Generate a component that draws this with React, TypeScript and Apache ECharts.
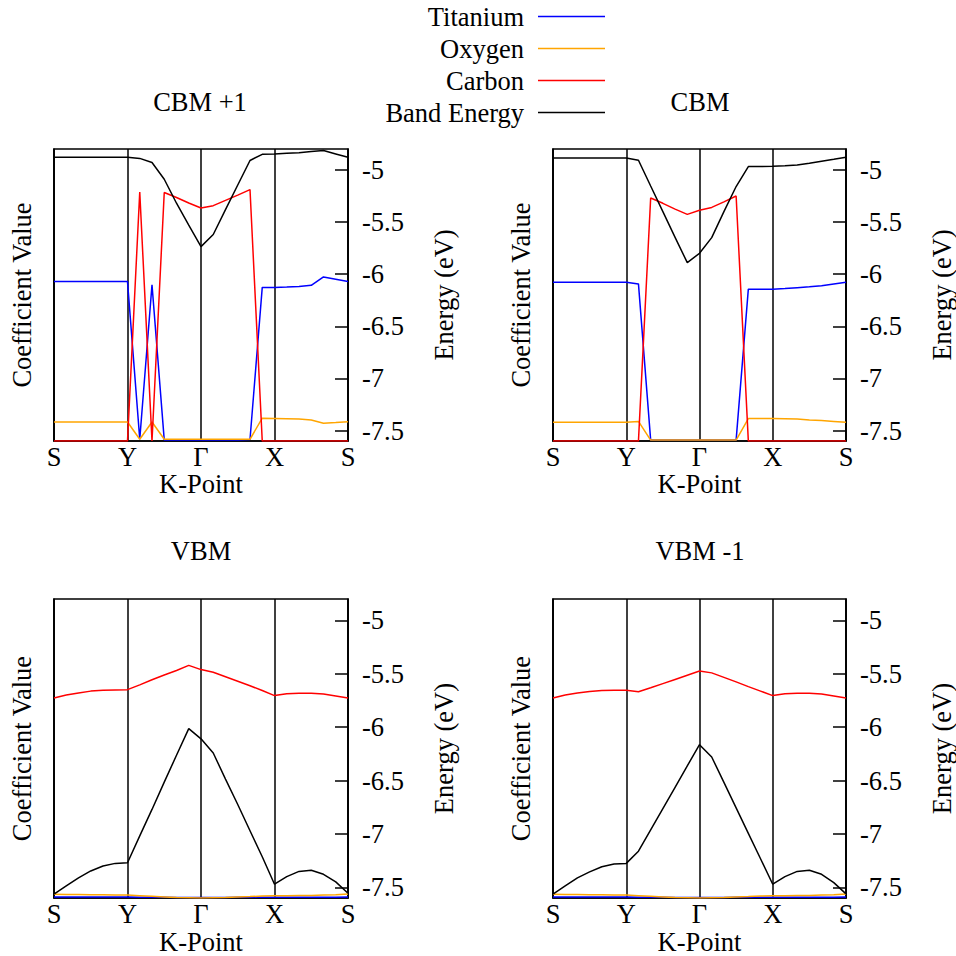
import React, { useEffect, useRef } from "react";
import * as echarts from "echarts";

// K-path tick labels (25 sampled k-points, high-symmetry points every 6)
const kLabels = ["S", "Y", "Γ", "X", "S"];
const kIndex = Array.from({ length: 25 }, (_, i) => i);

const legendNames = ["Titanium", "Oxygen", "Carbon", "Band Energy"];
const panelTitles = ["CBM +1", "CBM", "VBM", "VBM -1"];

// CBM +1
const band1 = [-4.879, -4.879, -4.879, -4.879, -4.879, -4.879, -4.879, -4.89, -4.93, -5.09, -5.32, -5.53, -5.736, -5.62, -5.381, -5.145, -4.91, -4.851, -4.847, -4.841, -4.835, -4.825, -4.815, -4.847, -4.879];
const ti1 = [0.546, 0.546, 0.546, 0.546, 0.546, 0.546, 0.546, 0.006, 0.535, 0.003, 0.003, 0.003, 0.003, 0.003, 0.003, 0.003, 0.005, 0.526, 0.526, 0.527, 0.529, 0.533, 0.562, 0.554, 0.546];
const ox1 = [0.065, 0.065, 0.065, 0.065, 0.065, 0.065, 0.065, 0.006, 0.065, 0.006, 0.006, 0.006, 0.006, 0.006, 0.006, 0.006, 0.006, 0.078, 0.077, 0.076, 0.075, 0.072, 0.061, 0.063, 0.066];
const ca1 = [0, 0, 0, 0, 0, 0, 0, 0.853, 0, 0.851, 0.834, 0.815, 0.798, 0.806, 0.824, 0.842, 0.861, 0, 0, 0, 0, 0, 0, 0, 0];

// CBM
const band2 = [-4.886, -4.886, -4.886, -4.886, -4.886, -4.886, -4.886, -4.908, -5.155, -5.4, -5.647, -5.89, -5.8, -5.65, -5.4, -5.16, -4.969, -4.969, -4.966, -4.96, -4.953, -4.937, -4.918, -4.899, -4.879];
const ti2 = [0.544, 0.544, 0.544, 0.544, 0.544, 0.544, 0.544, 0.538, 0.003, 0.003, 0.003, 0.003, 0.003, 0.003, 0.003, 0.003, 0.52, 0.52, 0.52, 0.522, 0.525, 0.528, 0.532, 0.538, 0.544];
const ox2 = [0.064, 0.064, 0.064, 0.064, 0.064, 0.064, 0.064, 0.067, 0.003, 0.003, 0.003, 0.003, 0.003, 0.003, 0.003, 0.003, 0.077, 0.077, 0.077, 0.076, 0.075, 0.072, 0.07, 0.067, 0.064];
const ca2 = [0, 0, 0, 0, 0, 0, 0, 0, 0.832, 0.814, 0.794, 0.776, 0.79, 0.8, 0.819, 0.839, 0, 0, 0, 0, 0, 0, 0, 0, 0];

// VBM
const band3 = [-7.563, -7.486, -7.41, -7.346, -7.3, -7.275, -7.269, -7.018, -6.77, -6.514, -6.263, -6.013, -6.109, -6.242, -6.486, -6.724, -6.969, -7.213, -7.47, -7.399, -7.35, -7.34, -7.377, -7.448, -7.554];
const ti3 = [0.004, 0.004, 0.004, 0.004, 0.004, 0.004, 0.004, 0.003, 0.003, 0.003, 0.002, 0.002, 0.002, 0.002, 0.002, 0.003, 0.003, 0.003, 0.003, 0.003, 0.003, 0.003, 0.003, 0.003, 0.004];
const ox3 = [0.013, 0.012, 0.012, 0.011, 0.011, 0.01, 0.01, 0.008, 0.006, 0.004, 0.002, 0.001, 0.0, 0.001, 0.002, 0.004, 0.005, 0.007, 0.008, 0.008, 0.009, 0.009, 0.01, 0.011, 0.014];
const ca3 = [0.669, 0.679, 0.686, 0.692, 0.695, 0.696, 0.697, 0.713, 0.73, 0.746, 0.761, 0.778, 0.764, 0.755, 0.74, 0.725, 0.71, 0.694, 0.677, 0.683, 0.685, 0.685, 0.682, 0.676, 0.669];

// VBM -1
const band4 = [-7.563, -7.486, -7.41, -7.355, -7.306, -7.281, -7.275, -7.161, -6.961, -6.762, -6.563, -6.362, -6.164, -6.279, -6.517, -6.755, -6.994, -7.232, -7.47, -7.399, -7.35, -7.34, -7.377, -7.455, -7.56];
const ti4 = [0.004, 0.004, 0.004, 0.004, 0.004, 0.004, 0.004, 0.003, 0.003, 0.003, 0.002, 0.002, 0.002, 0.002, 0.002, 0.003, 0.003, 0.003, 0.003, 0.003, 0.003, 0.003, 0.003, 0.003, 0.004];
const ox4 = [0.013, 0.012, 0.012, 0.011, 0.011, 0.01, 0.01, 0.008, 0.006, 0.004, 0.002, 0.001, 0.0, 0.001, 0.002, 0.004, 0.005, 0.007, 0.008, 0.008, 0.009, 0.009, 0.01, 0.011, 0.014];
const ca4 = [0.669, 0.679, 0.686, 0.691, 0.694, 0.695, 0.695, 0.69, 0.703, 0.717, 0.731, 0.745, 0.759, 0.753, 0.738, 0.723, 0.707, 0.692, 0.677, 0.683, 0.685, 0.685, 0.682, 0.676, 0.669];

const panels = [
  { ti: ti1, ox: ox1, ca: ca1, band: band1 },
  { ti: ti2, ox: ox2, ca: ca2, band: band2 },
  { ti: ti3, ox: ox3, ca: ca3, band: band3 },
  { ti: ti4, ox: ox4, ca: ca4, band: band4 },
];

const colors = { ti: "#0000ff", ox: "#ffa500", ca: "#ff0000", band: "#000000" };
const FONT = "Liberation Serif";

export default function App() {
  const ref = useRef<HTMLDivElement>(null);
  useEffect(() => {
    if (!ref.current) return;
    const chart = echarts.init(ref.current, undefined, { renderer: "svg" });

    const grids = [
      { left: 54, top: 149, width: 294, height: 292 },
      { left: 553, top: 149, width: 294, height: 292 },
      { left: 54, top: 599, width: 294, height: 300 },
      { left: 553, top: 599, width: 294, height: 300 },
    ].map((g) => ({ ...g, show: true, borderColor: "#000", borderWidth: 1.5, backgroundColor: "transparent" }));

    const textBase = { fontFamily: FONT, fontSize: 26.5, color: "#000" };

    const xAxis = grids.map((_, i) => ({
      type: "value",
      gridIndex: i,
      min: 0,
      max: 24,
      interval: 6,
      name: "K-Point",
      nameLocation: "middle",
      nameGap: 23,
      nameTextStyle: textBase,
      axisLine: { show: true, lineStyle: { color: "#000", width: 1.5 } },
      axisTick: { show: false },
      axisLabel: { ...textBase, margin: 2, formatter: (v: number) => kLabels[Math.round(v / 6)] ?? "" },
      splitLine: { show: true, lineStyle: { color: "#000", width: 1.5 } },
    }));

    const yAxis: any[] = [];
    grids.forEach((_, i) => {
      yAxis.push({
        type: "value",
        gridIndex: i,
        position: "left",
        min: 0,
        max: 1,
        name: "Coefficient Value",
        nameLocation: "middle",
        nameRotate: 90,
        nameGap: 19,
        nameTextStyle: textBase,
        axisLine: { show: true, lineStyle: { color: "#000", width: 1.5 } },
        axisTick: { show: false },
        axisLabel: { show: false },
        splitLine: { show: false },
      });
      yAxis.push({
        type: "value",
        gridIndex: i,
        position: "right",
        min: -7.6,
        max: -4.8,
        name: "Energy (eV)",
        nameLocation: "middle",
        nameRotate: 90,
        nameGap: 82,
        nameTextStyle: textBase,
        axisLine: { show: true, lineStyle: { color: "#000", width: 1.5 } },
        axisTick: { show: true, inside: true, length: 13, lineStyle: { color: "#000", width: 1.5 } },
        axisLabel: {
          ...textBase,
          margin: 14,
          showMinLabel: false,
          showMaxLabel: false,
          formatter: (v: number) => (Math.abs(v * 2 - Math.round(v * 2)) < 1e-6 ? String(v) : ""),
        },
        splitLine: { show: false },
      });
    });

    const series: any[] = [];
    panels.forEach((p, i) => {
      const mk = (name: string, vals: number[], color: string, yIdx: number) => ({
        type: "line",
        name,
        xAxisIndex: i,
        yAxisIndex: yIdx,
        data: kIndex.map((k) => [k, vals[k]]),
        showSymbol: false,
        symbol: "none",
        lineStyle: { color, width: 1.5 },
        itemStyle: { color },
        silent: true,
      });
      series.push(mk("Titanium", p.ti, colors.ti, i * 2));
      series.push(mk("Oxygen", p.ox, colors.ox, i * 2));
      series.push(mk("Carbon", p.ca, colors.ca, i * 2));
      series.push(mk("Band Energy", p.band, colors.band, i * 2 + 1));
    });

    const legendCenters = [17, 49, 81, 113];
    const legend = legendNames.map((n, i) => ({
      data: [n],
      right: 351,
      top: legendCenters[i] - 14,
      orient: "horizontal",
      align: "right",
      icon: "rect",
      itemWidth: 67,
      itemHeight: 1.5,
      padding: 0,
      selectedMode: false,
      itemStyle: { borderWidth: 0 },
      textStyle: { ...textBase, padding: [0, 9, 0, 0] },
    }));

    const titlePos = [
      { x: 200, y: 88 },
      { x: 700, y: 88 },
      { x: 201, y: 537 },
      { x: 700, y: 537 },
    ];
    const title = panelTitles.map((t, i) => ({
      text: t,
      left: titlePos[i].x,
      top: titlePos[i].y,
      textAlign: "center",
      padding: 0,
      textStyle: { ...textBase, fontWeight: "normal" },
    }));

    chart.setOption({
      animation: false,
      backgroundColor: "#fff",
      title,
      legend,
      grid: grids,
      xAxis,
      yAxis,
      series,
    });
    return () => chart.dispose();
  }, []);
  return <div ref={ref} style={{ position: "absolute", left: 0, top: 0, width: 956, height: 956 }} />;
}
